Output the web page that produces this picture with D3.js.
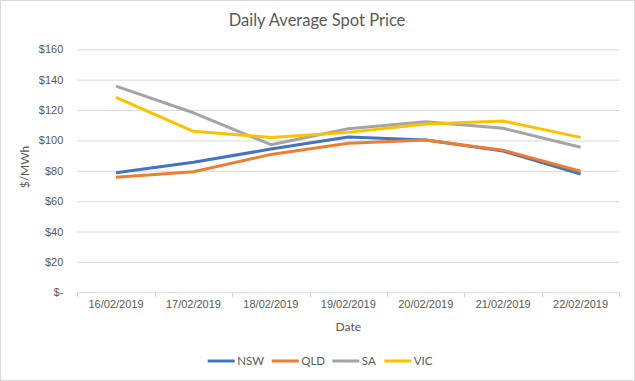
<!DOCTYPE html>
<html>
<head>
<meta charset="utf-8">
<style>
    body { margin: 0; background: #fff; }
    svg { display: block; font-family: Lato, 'Open Sans', sans-serif; }
    .grid line { stroke: #d9d9d9; }
    .grid .domain { display: none; }
    .y text, .x text { fill: #595959; font-size: 11px; }
    .y .domain, .x .domain { display: none; }
    .title { fill: #595959; font-size: 16.5px; }
    .axis-label { fill: #595959; font-size: 12px; }
    .legend text { fill: #595959; font-size: 11.5px; }
</style>
</head>
<body>
<svg width="635" height="381"></svg>

<script src="https://d3js.org/d3.v7.min.js"></script>
<script>
    // data
    let dates = ["16/02/2019", "17/02/2019", "18/02/2019", "19/02/2019", "20/02/2019", "21/02/2019", "22/02/2019"]
    let nsw = [78.7, 85.6, 94.3, 102.2, 100.3, 93.0, 77.9]
    let qld = [75.7, 79.4, 90.8, 98.1, 100.3, 93.6, 79.7]
    let sa  = [135.8, 118.2, 97.2, 107.7, 112.3, 108.0, 95.5]
    let vic = [128.4, 106.0, 102.0, 105.3, 110.8, 112.8, 102.0]
    let yTicks = [0, 20, 40, 60, 80, 100, 120, 140, 160]

    let series = [
        { key: "NSW", values: nsw, color: "#4472c4" },
        { key: "QLD", values: qld, color: "#ed7d31" },
        { key: "SA",  values: sa,  color: "#a5a5a5" },
        { key: "VIC", values: vic, color: "#ffc000" }
    ]

    let svg = d3.select("svg")
    let margin = { top: 49.3, right: 15.7, bottom: 88.7, left: 77.3 }
    let width = 635, height = 381

    // chart border
    svg.append("rect")
        .attr("x", 0.5).attr("y", 0.5)
        .attr("width", width - 1).attr("height", height - 1)
        .attr("fill", "#fff")
        .attr("stroke", "#d9d9d9")

    let x = d3.scaleBand()
        .domain(dates)
        .range([margin.left, width - margin.right])
        .padding(0)

    let y = d3.scaleLinear()
        .domain([0, 160])
        .range([height - margin.bottom, margin.top])

    // gridlines
    svg.append("g")
        .attr("class", "grid")
        .attr("transform", `translate(${margin.left},0)`)
        .call(d3.axisLeft(y).tickValues(yTicks.slice(1)).tickSize(-(width - margin.left - margin.right)).tickFormat(""))

    // y labels
    svg.append("g")
        .attr("class", "y axis")
        .attr("transform", `translate(${margin.left - 10},0)`)
        .call(d3.axisLeft(y).tickValues(yTicks).tickSize(0).tickPadding(4)
            .tickFormat(d => d === 0 ? "$-" : "$" + d))

    // x axis line with ticks at category boundaries
    let x0 = y(0)
    let axisG = svg.append("g")
    axisG.append("line")
        .attr("x1", x.range()[0]).attr("x2", x.range()[1])
        .attr("y1", x0 + 0.5).attr("y2", x0 + 0.5)
        .attr("stroke", "#d9d9d9")
    axisG.selectAll(".bound")
        .data(dates.map(d => x(d)).concat([x.range()[1]]))
        .join("line")
        .attr("x1", d => Math.round(d) + 0.5).attr("x2", d => Math.round(d) + 0.5)
        .attr("y1", x0).attr("y2", x0 + 5)
        .attr("stroke", "#d9d9d9")

    svg.append("g")
        .attr("class", "x axis")
        .attr("transform", `translate(0,${x0 + 8})`)
        .call(d3.axisBottom(x).tickSize(0).tickPadding(0))

    // lines
    let line = d3.line()
        .x((d, i) => x(dates[i]) + x.bandwidth() / 2)
        .y(d => y(d))

    svg.append("g")
        .selectAll("path")
        .data(series)
        .join("path")
        .attr("fill", "none")
        .attr("stroke", d => d.color)
        .attr("stroke-width", 3)
        .attr("stroke-linejoin", "round")
        .attr("d", d => line(d.values))

    // title
    svg.append("text")
        .attr("class", "title")
        .attr("x", 317)
        .attr("y", 26)
        .attr("text-anchor", "middle")
        .text("Daily Average Spot Price")

    svg.append("text")
        .attr("class", "axis-label")
        .attr("x", (x.range()[0] + x.range()[1]) / 2)
        .attr("y", 331)
        .attr("text-anchor", "middle")
        .text("Date")

    svg.append("text")
        .attr("class", "axis-label")
        .attr("transform", "translate(29,167) rotate(-90)")
        .attr("text-anchor", "middle")
        .text("$/MWh")

    // legend
    let legendX = [207.7, 271.7, 332.3, 384.3]
    let leg = svg.append("g")
        .attr("class", "legend")
        .selectAll("g")
        .data(series)
        .join("g")
        .attr("transform", (d, i) => `translate(${legendX[i]},361)`)

    leg.append("line")
        .attr("x1", 0).attr("x2", 27)
        .attr("stroke", d => d.color)
        .attr("stroke-width", 3)

    leg.append("text")
        .attr("x", 29.5)
        .attr("y", 4)
        .text(d => d.key)
</script>
</body>
</html>
